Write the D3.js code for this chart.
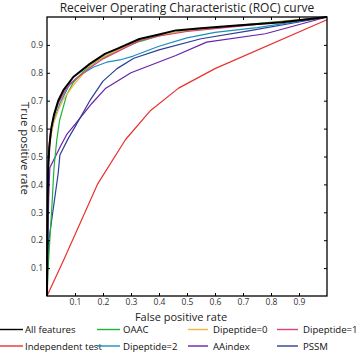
<!DOCTYPE html>
<html>
<head>
<meta charset="utf-8">
<script src="https://cdn.jsdelivr.net/npm/d3@7"></script>
<style>
  body { margin: 0; background: #fff; }
  text { font-family: "Open Sans", sans-serif; }
</style>
</head>
<body>
<div id="roc"></div>
<script>
// ROC points, [false positive rate, true positive rate]
const allFeatures = [[0,0],[0.002,0.3],[0.004,0.45],[0.008,0.53],[0.015,0.6],[0.025,0.65],[0.04,0.7],[0.06,0.74],[0.094,0.785],[0.153,0.832],[0.207,0.868],[0.25,0.886],[0.33,0.921],[0.4,0.937],[0.46,0.952],[0.55,0.96],[0.665,0.969],[0.84,0.981],[1,1]];
const oaac = [[0,0],[0.004,0.1],[0.01,0.2],[0.018,0.33],[0.025,0.46],[0.035,0.56],[0.045,0.63],[0.07,0.72],[0.094,0.765],[0.13,0.805],[0.18,0.843],[0.25,0.88],[0.33,0.912],[0.4,0.932],[0.5,0.952],[0.7,0.972],[1,1]];
const dipeptide0 = [[0,0],[0.002,0.35],[0.006,0.5],[0.012,0.56],[0.022,0.615],[0.04,0.665],[0.058,0.705],[0.094,0.755],[0.13,0.797],[0.17,0.838],[0.21,0.862],[0.26,0.885],[0.33,0.918],[0.4,0.935],[0.5,0.95],[0.7,0.97],[1,1]];
const dipeptide1 = [[0,0],[0.002,0.35],[0.005,0.5],[0.01,0.57],[0.02,0.63],[0.04,0.69],[0.07,0.745],[0.1,0.775],[0.15,0.815],[0.2,0.85],[0.25,0.875],[0.33,0.915],[0.4,0.932],[0.5,0.948],[0.7,0.968],[1,1]];
const dipeptide2 = [[0,0],[0.002,0.3],[0.005,0.48],[0.01,0.56],[0.025,0.63],[0.046,0.69],[0.082,0.761],[0.118,0.791],[0.165,0.82],[0.213,0.838],[0.26,0.846],[0.308,0.86],[0.355,0.878],[0.4,0.895],[0.5,0.925],[0.6,0.945],[0.75,0.962],[1,1]];
const aaindex = [[0,0],[0.003,0.2],[0.006,0.35],[0.01,0.46],[0.03,0.5],[0.05,0.54],[0.07,0.578],[0.1,0.615],[0.16,0.69],[0.21,0.745],[0.3,0.8],[0.46,0.862],[0.57,0.91],[0.78,0.94],[1,1]];
const pssm = [[0,0],[0.004,0.18],[0.022,0.31],[0.04,0.44],[0.046,0.505],[0.076,0.565],[0.1,0.606],[0.153,0.7],[0.2,0.77],[0.25,0.815],[0.31,0.852],[0.4,0.882],[0.55,0.922],[0.72,0.95],[1,1]];
const independentTest = [[0,0],[0.06,0.13],[0.18,0.4],[0.28,0.56],[0.37,0.665],[0.47,0.745],[0.6,0.815],[1,0.99]];

const seriesNames = ["All features", "OAAC", "Dipeptide=0", "Dipeptide=1",
                     "Independent test", "Dipeptide=2", "AAindex", "PSSM"];
const seriesData = [allFeatures, oaac, dipeptide0, dipeptide1,
                    independentTest, dipeptide2, aaindex, pssm];
const seriesColors = ["#000000", "#1fb33a", "#f0b93a", "#d9407a",
                      "#e8322e", "#1a8fc0", "#6a22a8", "#2b3f96"];
const tickValues = [0.1, 0.2, 0.3, 0.4, 0.5, 0.6, 0.7, 0.8, 0.9];

const width = 358, height = 354;
const margin = {left: 47, right: 31, top: 17, bottom: 58};

const svg = d3.select("#roc").append("svg")
    .attr("width", width)
    .attr("height", height);

const x = d3.scaleLinear().domain([0, 1]).range([margin.left, width - margin.right]);
const y = d3.scaleLinear().domain([0, 1]).range([height - margin.bottom, margin.top]);

// curves, drawn back to front so black sits on top
const line = d3.line().x(d => x(d[0])).y(d => y(d[1]));
const drawOrder = [4, 6, 7, 5, 1, 2, 3, 0];
svg.append("g")
    .selectAll("path")
    .data(drawOrder)
    .enter()
    .append("path")
    .attr("d", i => line(seriesData[i]))
    .attr("fill", "none")
    .attr("stroke", i => seriesColors[i])
    .attr("stroke-width", i => i === 0 ? 2 : 1.2)
    .attr("stroke-linejoin", "round");

// axes with inward ticks on all four sides
const tickLen = 3;
const axisStyle = g => {
    g.select(".domain").remove();
    g.selectAll(".tick line").attr("stroke", "#000");
    g.selectAll(".tick text").attr("fill", "#333").style("font-size", "8.5px");
};
svg.append("g")
    .attr("transform", `translate(0,${y(0)})`)
    .call(d3.axisBottom(x).tickValues(tickValues).tickSizeInner(-tickLen).tickPadding(3).tickFormat(d3.format(".1f")))
    .call(axisStyle);
svg.append("g")
    .attr("transform", `translate(${x(0)},0)`)
    .call(d3.axisLeft(y).tickValues(tickValues).tickSizeInner(-tickLen).tickPadding(4).tickFormat(d3.format(".1f")))
    .call(axisStyle);
svg.append("g")
    .attr("transform", `translate(0,${y(1)})`)
    .call(d3.axisTop(x).tickValues(tickValues).tickSizeInner(-tickLen).tickFormat(""))
    .call(axisStyle);
svg.append("g")
    .attr("transform", `translate(${x(1)},0)`)
    .call(d3.axisRight(y).tickValues(tickValues).tickSizeInner(-tickLen).tickFormat(""))
    .call(axisStyle);

svg.append("rect")
    .attr("x", x(0)).attr("y", y(1))
    .attr("width", x(1) - x(0)).attr("height", y(0) - y(1))
    .attr("fill", "none").attr("stroke", "#000").attr("stroke-width", 1.3);

// titles
svg.append("text")
    .attr("x", (x(0) + x(1)) / 2).attr("y", 11.5)
    .attr("text-anchor", "middle")
    .style("font-size", "12px").attr("fill", "#222")
    .text("Receiver Operating Characteristic (ROC) curve");
svg.append("text")
    .attr("x", (x(0) + x(1)) / 2 - 6).attr("y", 320.5)
    .attr("text-anchor", "middle")
    .style("font-size", "11px").attr("fill", "#222")
    .text("False positive rate");
svg.append("text")
    .attr("transform", `translate(21,${(y(0) + y(1)) / 2 - 8}) rotate(90)`)
    .attr("text-anchor", "middle")
    .style("font-size", "11.4px").attr("fill", "#222")
    .text("True positive rate");

// legend: 2 rows x 4 columns
const colX = [0, 97, 188, 277];
const lineLen = [23, 23, 20, 21];
const textOffset = [25, 26, 25, 26];
const rowY = [329.5, 346];
const legend = svg.append("g")
    .selectAll("g")
    .data(seriesNames)
    .enter()
    .append("g")
    .attr("transform", (d, i) => `translate(${colX[i % 4]},${rowY[Math.floor(i / 4)]})`);
legend.append("line")
    .attr("x1", 0).attr("x2", (d, i) => lineLen[i % 4])
    .attr("stroke", (d, i) => seriesColors[i])
    .attr("stroke-width", 1.4);
legend.append("text")
    .attr("x", (d, i) => textOffset[i % 4])
    .attr("y", 3.5)
    .style("font-size", "9.6px").attr("fill", "#111")
    .text(d => d);
</script>
</body>
</html>
